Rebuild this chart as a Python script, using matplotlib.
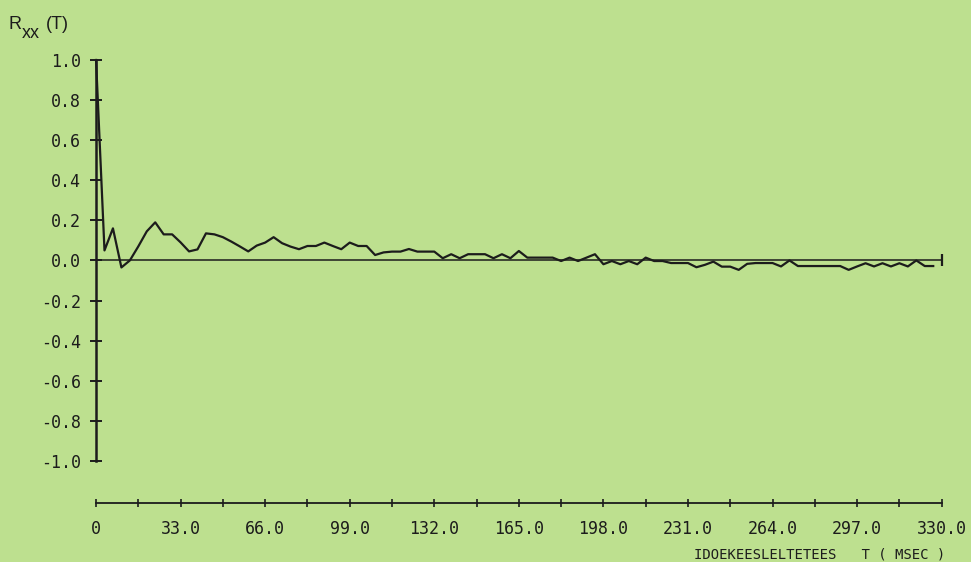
import numpy as np
import matplotlib
matplotlib.use("Agg")
import matplotlib.pyplot as plt
from matplotlib.ticker import FixedLocator, FixedFormatter

# autocorrelation, one value every 3.3 msec
rxx = [
    1.0, 0.05, 0.16, -0.035, 0.0, 0.07, 0.145, 0.19, 0.13, 0.13,
    0.09, 0.045, 0.055, 0.135, 0.13, 0.116, 0.094, 0.07, 0.045, 0.074,
    0.089, 0.116, 0.086, 0.069, 0.056, 0.072, 0.072, 0.089, 0.072, 0.056,
    0.089, 0.072, 0.072, 0.027, 0.04, 0.044, 0.044, 0.057, 0.044, 0.044,
    0.044, 0.011, 0.031, 0.011, 0.031, 0.031, 0.031, 0.011, 0.031, 0.011,
    0.047, 0.014, 0.014, 0.014, 0.014, -0.003, 0.014, -0.003, 0.014, 0.031,
    -0.019, -0.003, -0.019, -0.003, -0.019, 0.014, -0.003, -0.003, -0.013, -0.013,
    -0.013, -0.034, -0.022, -0.006, -0.031, -0.031, -0.047, -0.017, -0.013, -0.013,
    -0.013, -0.03, 0.0, -0.028, -0.028, -0.028, -0.028, -0.028, -0.028, -0.047,
    -0.03, -0.014, -0.03, -0.014, -0.03, -0.014, -0.03, 0.0, -0.028, -0.028,
]
dt = 3.3
lag = np.arange(len(rxx)) * dt

x_ticks = [0, 33, 66, 99, 132, 165, 198, 231, 264, 297, 330]
x_labels = ["0", "33.0", "66.0", "99.0", "132.0", "165.0", "198.0",
            "231.0", "264.0", "297.0", "330.0"]
x_minor = [16.5, 49.5, 82.5, 115.5, 148.5, 181.5, 214.5, 247.5, 280.5, 313.5]
y_ticks = [1.0, 0.8, 0.6, 0.4, 0.2, 0.0, -0.2, -0.4, -0.6, -0.8, -1.0]
y_labels = ["1.0", "0.8", "0.6", "0.4", "0.2", "0.0",
            "-0.2", "-0.4", "-0.6", "-0.8", "-1.0"]

bg = "#bde08f"
ink = "#1c1c1c"
mono = "DejaVu Sans Mono"

fig = plt.figure(figsize=(9.71, 5.62), dpi=100, facecolor=bg)
ax = fig.add_axes([0.0989, 0.105, 0.8709, 0.7883])
ax.set_facecolor(bg)

ax.plot(lag, rxx, color=ink, lw=1.6, clip_on=False, zorder=3)
ax.plot([0, 330], [0, 0], color=ink, lw=1.1, zorder=2)
ax.plot([330], [0], marker="|", ms=9, mew=1.6, color=ink, clip_on=False)

ax.set_xlim(0, 330)
ax.set_ylim(-1.21, 1.0)

for s in ["top", "right"]:
    ax.spines[s].set_visible(False)
ax.spines["left"].set_bounds(-1, 1)
ax.spines["left"].set_linewidth(1.8)
ax.spines["left"].set_color(ink)
ax.spines["bottom"].set_linewidth(1.3)
ax.spines["bottom"].set_color(ink)

ax.yaxis.set_major_locator(FixedLocator(y_ticks))
ax.yaxis.set_major_formatter(FixedFormatter(y_labels))
ax.xaxis.set_major_locator(FixedLocator(x_ticks))
ax.xaxis.set_major_formatter(FixedFormatter(x_labels))
ax.xaxis.set_minor_locator(FixedLocator(x_minor))

ax.tick_params(axis="y", direction="inout", length=8, width=1.4,
               color=ink, pad=7, labelsize=12, labelcolor=ink)
ax.tick_params(axis="x", which="both", direction="inout", length=6,
               width=1.2, color=ink, pad=9, labelsize=12, labelcolor=ink)
for lab in ax.get_xticklabels() + ax.get_yticklabels():
    lab.set_family(mono)

# R_xx(T) label in the top left corner
fig.text(8 / 971, 1 - 29 / 562, "R", fontsize=13, family="Liberation Sans",
         color=ink, va="baseline")
fig.text(22 / 971, 1 - 38 / 562, "xx", fontsize=13, family="Liberation Sans",
         color=ink, va="baseline")
fig.text(46 / 971, 1 - 29 / 562, "(T)", fontsize=13, family="Liberation Sans",
         color=ink, va="baseline")

fig.text(945 / 971, 1 - 558 / 562, "IDOEKEESLELTETEES   T ( MSEC )",
         fontsize=10, family=mono, color=ink, ha="right", va="baseline")

fig.savefig("out.png", dpi=100, facecolor=bg)
